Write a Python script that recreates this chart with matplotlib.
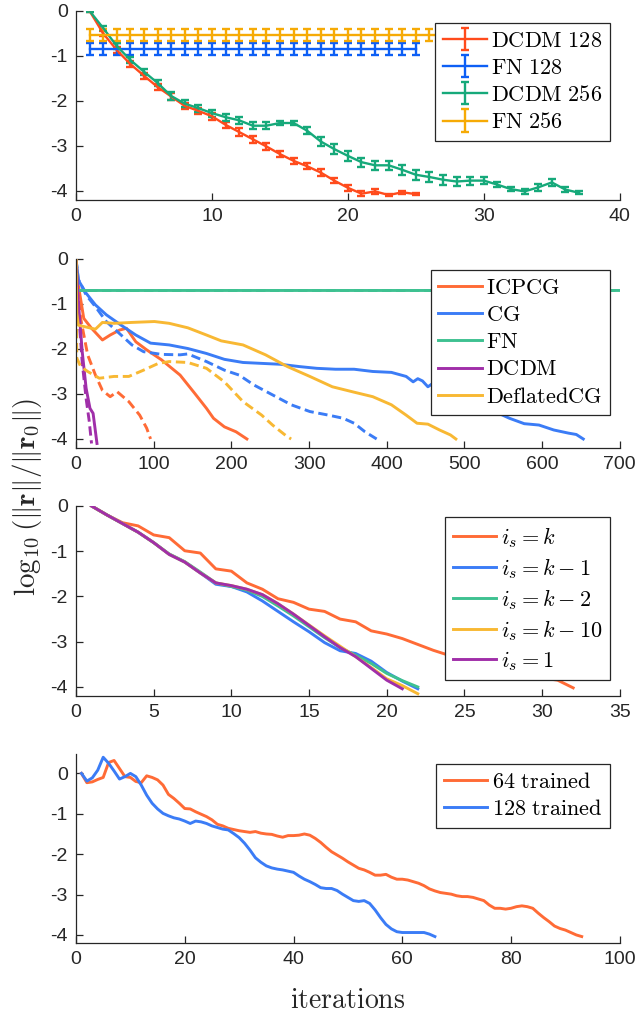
import numpy as np
import matplotlib
matplotlib.use("Agg")
import matplotlib.pyplot as plt

plt.rcParams["font.family"] = ["Liberation Sans", "DejaVu Sans"]
plt.rcParams["mathtext.fontset"] = "cm"
plt.rcParams["axes.unicode_minus"] = False

# ---------------- panel 1: DCDM vs FN, mean with error bars ----------------
dcdm128_y = [0, -0.50, -0.87, -1.18, -1.44, -1.69, -1.90, -2.11, -2.22, -2.34,
             -2.53, -2.69, -2.85, -3.01, -3.18, -3.33, -3.45, -3.59, -3.77, -3.93,
             -4.06, -4.01, -4.09, -4.03, -4.07]
dcdm128_e = [0.02, 0.05, 0.06, 0.07, 0.07, 0.07, 0.07, 0.07, 0.07, 0.08,
             0.07, 0.08, 0.08, 0.07, 0.07, 0.07, 0.07, 0.07, 0.06, 0.06,
             0.06, 0.05, 0.03, 0.03, 0.02]
dcdm256_y = [0, -0.38, -0.78, -1.09, -1.35, -1.60, -1.89, -2.06, -2.16, -2.27,
             -2.36, -2.43, -2.55, -2.55, -2.49, -2.49, -2.66, -2.90, -3.07, -3.22,
             -3.36, -3.43, -3.43, -3.53, -3.64, -3.69, -3.75, -3.79, -3.77, -3.77,
             -3.86, -3.96, -4.01, -3.92, -3.81, -3.97, -4.04]
dcdm256_e = [0.02, 0.05, 0.06, 0.07, 0.07, 0.07, 0.08, 0.08, 0.08, 0.08,
             0.08, 0.08, 0.08, 0.08, 0.05, 0.05, 0.08, 0.10, 0.11, 0.11,
             0.10, 0.10, 0.10, 0.11, 0.11, 0.11, 0.11, 0.10, 0.09, 0.07,
             0.06, 0.05, 0.05, 0.07, 0.07, 0.06, 0.03]
fn128_level, fn128_err, fn128_n = -0.85, 0.13, 25
fn256_level, fn256_err, fn256_n = -0.53, 0.13, 37

# ---------------- panel 2: solvers, two problem sizes ----------------
icpcg_x = [0, 3, 10, 20, 34, 44, 56, 65, 77, 91, 110, 134, 153, 168, 177, 191, 206, 220]
icpcg_y = [0, -0.58, -1.32, -1.54, -1.80, -1.69, -1.58, -1.54, -1.84, -2.02, -2.24,
           -2.58, -2.99, -3.32, -3.54, -3.73, -3.84, -4.00]
icpcg2_x = [0, 2, 6, 15, 25, 34, 44, 53, 68, 82, 91, 96]
icpcg2_y = [0, -0.6, -1.32, -2.13, -2.58, -2.92, -3.06, -2.95, -3.17, -3.47, -3.76, -4.00]

cg_x = [0, 3, 13, 25, 39, 58, 77, 96, 120, 144, 168, 191, 215, 239, 263, 287, 310,
        334, 358, 382, 406, 425, 434, 440, 446, 453, 458, 480, 510, 539, 558, 577,
        596, 615, 634, 644, 653]
cg_y = [0, -0.47, -0.76, -1.02, -1.24, -1.47, -1.69, -1.87, -1.91, -1.99, -2.10,
        -2.23, -2.30, -2.32, -2.34, -2.39, -2.43, -2.45, -2.45, -2.50, -2.52, -2.61,
        -2.73, -2.66, -2.71, -2.84, -2.78, -2.95, -3.18, -3.39, -3.54, -3.66, -3.69,
        -3.80, -3.87, -3.90, -4.00]
cg2_x = [0, 3, 13, 25, 39, 53, 72, 87, 110, 134, 144, 168, 191, 210, 229, 253, 277,
         301, 325, 344, 358, 372, 387]
cg2_y = [0, -0.45, -0.80, -1.06, -1.39, -1.61, -1.91, -2.06, -2.12, -2.13, -2.11,
         -2.28, -2.47, -2.58, -2.80, -3.02, -3.24, -3.39, -3.47, -3.54, -3.65,
         -3.84, -4.00]

fn_x = [0, 2, 700]
fn_y = [0, -0.70, -0.70]

dcdm_x = [0, 3, 8, 13, 18, 22, 27]
dcdm_y = [0, -0.95, -2.06, -2.87, -3.32, -3.43, -4.10]
dcdm2_x = [0, 3, 8, 13, 17, 20]
dcdm2_y = [0, -1.10, -2.30, -3.10, -3.60, -4.10]

dfcg_x = [0, 1, 3, 10, 25, 34, 49, 72, 101, 120, 144, 168, 187, 215, 244, 272,
          301, 330, 358, 382, 406, 425, 439, 453, 468, 482, 489]
dfcg_y = [0, -1.2, -1.47, -1.50, -1.56, -1.41, -1.43, -1.41, -1.39, -1.43, -1.53,
          -1.69, -1.82, -1.91, -2.13, -2.39, -2.61, -2.84, -2.96, -3.06, -3.24,
          -3.47, -3.65, -3.67, -3.80, -3.91, -4.00]
dfcg2_x = [0, 1, 6, 15, 30, 49, 68, 87, 106, 120, 144, 168, 191, 215, 239, 253, 272, 277]
dfcg2_y = [0, -2.20, -2.39, -2.50, -2.65, -2.61, -2.61, -2.47, -2.32, -2.28, -2.30,
           -2.43, -2.73, -3.17, -3.47, -3.69, -3.95, -4.00]

# ---------------- panel 3: choice of i_s ----------------
is_k = [0, -0.20, -0.37, -0.44, -0.64, -0.70, -0.99, -1.04, -1.39, -1.44, -1.70,
        -1.84, -2.05, -2.13, -2.28, -2.33, -2.50, -2.56, -2.76, -2.83, -2.93, -3.06,
        -3.19, -3.30, -3.39, -3.48, -3.57, -3.64, -3.73, -3.80, -3.85, -4.02]
is_km1 = [0, -0.20, -0.39, -0.58, -0.81, -1.07, -1.24, -1.48, -1.73, -1.78, -1.90,
          -2.10, -2.33, -2.56, -2.78, -3.02, -3.20, -3.26, -3.43, -3.68, -3.87, -4.04]
is_km2 = [0, -0.20, -0.39, -0.58, -0.81, -1.06, -1.23, -1.46, -1.70, -1.78, -1.86,
          -2.00, -2.21, -2.43, -2.67, -2.91, -3.13, -3.30, -3.48, -3.70, -3.86, -4.00]
is_km10 = [0, -0.20, -0.39, -0.58, -0.81, -1.07, -1.24, -1.48, -1.70, -1.76, -1.84,
           -1.96, -2.16, -2.39, -2.63, -2.87, -3.10, -3.33, -3.57, -3.82, -3.97, -4.15]
is_1 = [0, -0.20, -0.39, -0.58, -0.81, -1.07, -1.24, -1.48, -1.70, -1.76, -1.84,
        -1.96, -2.16, -2.39, -2.64, -2.89, -3.13, -3.33, -3.59, -3.85, -4.04]

# ---------------- panel 4: trained resolution ----------------
tr64 = [0, -0.23, -0.21, -0.15, -0.10, 0.27, 0.32, 0.12, -0.08, -0.10, -0.20, -0.23,
        -0.06, -0.10, -0.16, -0.29, -0.52, -0.62, -0.74, -0.87, -0.88, -0.95, -1.01,
        -1.07, -1.15, -1.26, -1.30, -1.36, -1.39, -1.42, -1.44, -1.46, -1.44, -1.48,
        -1.50, -1.51, -1.55, -1.58, -1.54, -1.54, -1.53, -1.50, -1.53, -1.61, -1.71,
        -1.83, -1.94, -2.02, -2.10, -2.19, -2.27, -2.35, -2.39, -2.45, -2.52, -2.52,
        -2.50, -2.57, -2.62, -2.62, -2.64, -2.68, -2.72, -2.78, -2.86, -2.91, -2.95,
        -2.97, -2.99, -3.03, -3.05, -3.05, -3.07, -3.11, -3.15, -3.26, -3.34, -3.34,
        -3.36, -3.34, -3.30, -3.28, -3.30, -3.34, -3.46, -3.57, -3.67, -3.78, -3.84,
        -3.88, -3.94, -4.00, -4.04]
tr128 = [0, -0.19, -0.11, 0.08, 0.40, 0.25, 0.06, -0.14, -0.08, 0.0, -0.08, -0.29,
         -0.54, -0.74, -0.88, -0.99, -1.05, -1.10, -1.13, -1.18, -1.24, -1.18, -1.20,
         -1.24, -1.30, -1.34, -1.38, -1.40, -1.49, -1.59, -1.73, -1.90, -2.09, -2.20,
         -2.29, -2.34, -2.37, -2.39, -2.42, -2.45, -2.54, -2.62, -2.68, -2.75, -2.83,
         -2.85, -2.85, -2.90, -2.99, -3.07, -3.15, -3.17, -3.15, -3.22, -3.38, -3.57,
         -3.74, -3.85, -3.92, -3.94, -3.94, -3.94, -3.94, -3.94, -3.98, -4.04]

# colours
C1 = {"red": "#ff4b1c", "blue": "#0d5ff5", "green": "#16a97a", "yellow": "#f6aa05"}
C = {"orange": "#ff6b36", "blue": "#3b7cf6", "green": "#3ec191", "purple": "#a02fa9",
     "yellow": "#f8b833"}
AXC = "#262626"
DASH = (0, (3.2, 1.6))

fig = plt.figure(figsize=(6.36, 10.14), dpi=100)
L, W = 0.1195, 0.855
ax1 = fig.add_axes([L, 0.8028, W, 0.1864])
ax2 = fig.add_axes([L, 0.5582, W, 0.1864])
ax3 = fig.add_axes([L, 0.3136, W, 0.1874])
ax4 = fig.add_axes([L, 0.0700, W, 0.1864])


def style(ax, xlim, ylim, xticks):
    ax.set_xlim(*xlim)
    ax.set_ylim(*ylim)
    ax.set_xticks(xticks)
    ax.set_yticks([0, -1, -2, -3, -4])
    for s in ("top", "right"):
        ax.spines[s].set_visible(False)
    for s in ("left", "bottom"):
        ax.spines[s].set_color(AXC)
        ax.spines[s].set_linewidth(0.9)
    ax.tick_params(direction="in", length=5, width=0.9, colors=AXC,
                   labelsize=14, pad=6)


def legend(ax, top, fs=16):
    lg = ax.legend(loc="upper right", bbox_to_anchor=(0.982, top), borderaxespad=0,
                   fancybox=False, framealpha=1, edgecolor=AXC, fontsize=fs,
                   handlelength=1.95, handletextpad=0.2, borderpad=0.35,
                   labelspacing=0.28)
    lg.get_frame().set_linewidth(0.9)
    return lg


# panel 1
ek = dict(lw=1.7, capsize=2.6, capthick=1.7, elinewidth=1.7)
x128 = np.arange(1, len(dcdm128_y) + 1)
x256 = np.arange(1, len(dcdm256_y) + 1)
xf128 = np.arange(1, fn128_n + 1)
xf256 = np.arange(1, fn256_n + 1)
ax1.errorbar(x128, dcdm128_y, yerr=dcdm128_e, color=C1["red"], label=r"$\mathrm{DCDM\ 128}$", **ek)
ax1.errorbar(xf128, np.full(fn128_n, fn128_level), yerr=fn128_err, color=C1["blue"],
             label=r"$\mathrm{FN\ 128}$", **ek)
ax1.errorbar(x256, dcdm256_y, yerr=dcdm256_e, color=C1["green"], label=r"$\mathrm{DCDM\ 256}$", **ek)
ax1.errorbar(xf256, np.full(fn256_n, fn256_level), yerr=fn256_err, color=C1["yellow"],
             label=r"$\mathrm{FN\ 256}$", **ek)
style(ax1, (0, 40), (-4.2, 0), [0, 10, 20, 30, 40])
legend(ax1, 0.937)

# panel 2
lw = 2.1
ax2.plot(icpcg_x, icpcg_y, color=C["orange"], lw=lw, label=r"$\mathrm{ICPCG}$")
ax2.plot(icpcg2_x, icpcg2_y, color=C["orange"], lw=lw, ls=DASH)
ax2.plot(cg_x, cg_y, color=C["blue"], lw=lw, label=r"$\mathrm{CG}$")
ax2.plot(cg2_x, cg2_y, color=C["blue"], lw=lw, ls=DASH)
ax2.plot(fn_x, fn_y, color=C["green"], lw=lw, label=r"$\mathrm{FN}$")
ax2.plot(fn_x, fn_y, color=C["green"], lw=lw, ls=DASH)
ax2.plot(dcdm_x, dcdm_y, color=C["purple"], lw=lw, label=r"$\mathrm{DCDM}$")
ax2.plot(dcdm2_x, dcdm2_y, color=C["purple"], lw=lw, ls=DASH)
ax2.plot(dfcg_x, dfcg_y, color=C["yellow"], lw=lw, label=r"$\mathrm{DeflatedCG}$")
ax2.plot(dfcg2_x, dfcg2_y, color=C["yellow"], lw=lw, ls=DASH)
style(ax2, (0, 700), (-4.2, 0), [0, 100, 200, 300, 400, 500, 600, 700])
legend(ax2, 0.942)

# panel 3
ax3.plot(np.arange(1, len(is_k) + 1), is_k, color=C["orange"], lw=lw, label=r"$i_s = k$")
ax3.plot(np.arange(1, len(is_km1) + 1), is_km1, color=C["blue"], lw=lw, label=r"$i_s = k-1$")
ax3.plot(np.arange(1, len(is_km2) + 1), is_km2, color=C["green"], lw=lw, label=r"$i_s = k-2$")
ax3.plot(np.arange(1, len(is_km10) + 1), is_km10, color=C["yellow"], lw=lw, label=r"$i_s = k-10$")
ax3.plot(np.arange(1, len(is_1) + 1), is_1, color=C["purple"], lw=lw, label=r"$i_s = 1$")
style(ax3, (0, 35), (-4.2, 0), [0, 5, 10, 15, 20, 25, 30, 35])
legend(ax3, 0.942)

# panel 4
ax4.plot(np.arange(1, len(tr64) + 1), tr64, color=C["orange"], lw=lw, label=r"$\mathrm{64\ trained}$")
ax4.plot(np.arange(1, len(tr128) + 1), tr128, color=C["blue"], lw=lw, label=r"$\mathrm{128\ trained}$")
style(ax4, (0, 100), (-4.2, 0.48), [0, 20, 40, 60, 80, 100])
legend(ax4, 0.947)
ax4.set_xlabel(r"$\mathrm{iterations}$", fontsize=20, color=AXC, labelpad=14)

fig.text(0.043, 0.51, r"$\log_{10}(\|\mathbf{r}\|/\|\mathbf{r}_0\|)$", rotation=90,
         ha="center", va="center", fontsize=21, color=AXC)

fig.savefig("out.png", dpi=100)
